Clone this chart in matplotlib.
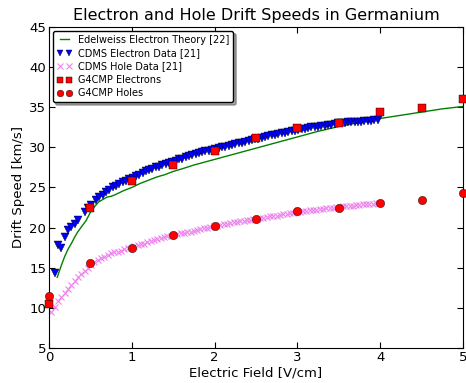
import matplotlib
matplotlib.use("Agg")
import matplotlib.pyplot as plt

# Edelweiss electron theory curve
theory_field = [0.10, 0.15, 0.19, 0.23, 0.27, 0.31, 0.35, 0.40, 0.45, 0.50, 0.55, 0.60,
                0.65, 0.70, 0.75, 0.80, 0.90, 1.00, 1.10, 1.20, 1.30, 1.40, 1.50, 1.60,
                1.75, 2.00, 2.25, 2.50, 2.75, 3.00, 3.25, 3.50, 3.75, 4.00, 4.25, 4.50,
                4.75, 5.00]
theory_speed = [13.8, 15.3, 16.4, 17.3, 18.0, 18.8, 19.5, 20.2, 20.9, 21.9, 22.6, 23.2,
                23.5, 23.8, 23.9, 24.1, 24.6, 25.0, 25.5, 25.9, 26.3, 26.6, 27.0, 27.3,
                27.8, 28.5, 29.2, 29.9, 30.6, 31.3, 32.0, 32.6, 33.1, 33.6, 34.0, 34.4,
                34.8, 35.1]

# CDMS electron data
cdms_e_field = [0.07, 0.11, 0.15, 0.20, 0.23, 0.27, 0.31, 0.35, 0.43, 0.47, 0.51, 0.57,
                0.61, 0.65, 0.69, 0.73, 0.77, 0.81, 0.85, 0.89, 0.93, 0.97, 1.01, 1.05,
                1.09, 1.13, 1.17, 1.21, 1.25, 1.29, 1.33, 1.37, 1.41, 1.45, 1.49, 1.53,
                1.57, 1.61, 1.65, 1.69, 1.73, 1.77, 1.81, 1.85, 1.89, 1.93, 1.97, 2.01,
                2.05, 2.09, 2.13, 2.17, 2.21, 2.25, 2.29, 2.33, 2.37, 2.41, 2.45, 2.49,
                2.53, 2.57, 2.61, 2.65, 2.69, 2.73, 2.77, 2.81, 2.85, 2.89, 2.93, 2.97,
                3.01, 3.05, 3.09, 3.13, 3.17, 3.21, 3.25, 3.29, 3.33, 3.37, 3.41, 3.45,
                3.49, 3.53, 3.57, 3.61, 3.65, 3.69, 3.73, 3.77, 3.81, 3.85, 3.89, 3.93,
                3.97]
cdms_e_speed = [14.4, 17.8, 17.4, 18.8, 19.7, 20.1, 20.5, 20.9, 21.9, 22.4, 22.8, 23.4,
                23.8, 24.1, 24.4, 24.7, 25.1, 25.2, 25.4, 25.7, 25.8, 26.0, 26.2, 26.4,
                26.6, 26.8, 27.0, 27.2, 27.3, 27.5, 27.6, 27.8, 27.9, 28.1, 28.2, 28.3,
                28.5, 28.6, 28.8, 28.9, 29.1, 29.2, 29.3, 29.4, 29.5, 29.6, 29.7, 29.8,
                29.9, 30.0, 30.1, 30.2, 30.3, 30.4, 30.5, 30.6, 30.7, 30.8, 30.9, 31.0,
                31.1, 31.2, 31.3, 31.4, 31.5, 31.6, 31.7, 31.8, 31.85, 31.9, 32.0, 32.1,
                32.2, 32.3, 32.35, 32.4, 32.5, 32.55, 32.6, 32.65, 32.7, 32.8, 32.85, 32.9,
                33.0, 33.0, 33.05, 33.1, 33.1, 33.15, 33.2, 33.2, 33.25, 33.3, 33.3, 33.35,
                33.4]

# CDMS hole data
cdms_h_field = [0.03, 0.07, 0.11, 0.15, 0.19, 0.23, 0.27, 0.31, 0.35, 0.39, 0.43, 0.47,
                0.51, 0.55, 0.59, 0.63, 0.67, 0.71, 0.75, 0.79, 0.83, 0.87, 0.91, 0.95,
                0.99, 1.03, 1.07, 1.11, 1.15, 1.19, 1.23, 1.27, 1.31, 1.35, 1.39, 1.43,
                1.47, 1.51, 1.55, 1.59, 1.63, 1.67, 1.71, 1.75, 1.79, 1.83, 1.87, 1.91,
                1.95, 1.99, 2.03, 2.07, 2.11, 2.15, 2.19, 2.23, 2.27, 2.31, 2.35, 2.39,
                2.43, 2.47, 2.51, 2.55, 2.59, 2.63, 2.67, 2.71, 2.75, 2.79, 2.83, 2.87,
                2.91, 2.95, 2.99, 3.03, 3.07, 3.11, 3.15, 3.19, 3.23, 3.27, 3.31, 3.35,
                3.39, 3.43, 3.47, 3.51, 3.55, 3.59, 3.63, 3.67, 3.71, 3.75, 3.79, 3.83,
                3.87, 3.91, 3.95, 3.99]
cdms_h_speed = [9.5, 10.1, 10.8, 11.3, 11.8, 12.4, 12.9, 13.3, 13.8, 14.2, 14.6, 15.0,
                15.4, 15.7, 16.0, 16.2, 16.4, 16.6, 16.8, 16.9, 17.0, 17.1, 17.3, 17.4,
                17.5, 17.7, 17.8, 17.9, 18.0, 18.2, 18.3, 18.4, 18.6, 18.7, 18.8, 18.9,
                19.0, 19.1, 19.2, 19.3, 19.35, 19.45, 19.5, 19.6, 19.7, 19.8, 19.9, 20.0,
                20.1, 20.2, 20.25, 20.35, 20.4, 20.5, 20.55, 20.65, 20.7, 20.8, 20.85, 20.9,
                21.0, 21.05, 21.1, 21.2, 21.25, 21.3, 21.4, 21.45, 21.5, 21.6, 21.65, 21.7,
                21.8, 21.85, 21.9, 22.0, 22.05, 22.1, 22.15, 22.2, 22.25, 22.3, 22.35, 22.4,
                22.45, 22.5, 22.55, 22.6, 22.65, 22.7, 22.7, 22.75, 22.8, 22.85, 22.9, 22.95,
                23.0, 23.0, 23.05, 23.1]

# G4CMP simulation
g4_field = [0.0, 0.5, 1.0, 1.5, 2.0, 2.5, 3.0, 3.5, 4.0, 4.5, 5.0]
g4_electrons = [10.5, 22.4, 25.8, 27.8, 29.5, 31.2, 32.45, 33.0, 34.4, 34.85, 36.0]
g4_holes = [11.5, 15.6, 17.5, 19.1, 20.2, 21.1, 22.1, 22.5, 23.1, 23.4, 24.3]

fig = plt.figure(figsize=(4.66, 3.83), dpi=100)
ax = fig.add_axes([0.105, 0.0914, 0.8886, 0.8381])

ax.plot(theory_field, theory_speed, color="g", lw=1, label="Edelweiss Electron Theory [22]")
ax.plot(cdms_e_field, cdms_e_speed, "v", color="b", mec="k", mew=0.3, ms=6,
        label="CDMS Electron Data [21]")
ax.plot(cdms_h_field, cdms_h_speed, "x", color="violet", mew=0.8, ms=5,
        label="CDMS Hole Data [21]")
ax.plot(g4_field, g4_electrons, "s", color="r", mec="k", mew=0.3, ms=6,
        label="G4CMP Electrons", clip_on=False, zorder=5)
ax.plot(g4_field, g4_holes, "o", color="r", mec="k", mew=0.3, ms=6,
        label="G4CMP Holes", clip_on=False, zorder=5)

ax.set_xlim(0, 5)
ax.set_ylim(5, 45)
ax.tick_params(direction="in", top=True, right=True, labelsize=9.5, length=4, pad=2)
ax.set_title("Electron and Hole Drift Speeds in Germanium", fontsize=11.5, pad=5)
ax.set_xlabel("Electric Field [V/cm]", fontsize=9.5, labelpad=2)
ax.set_ylabel("Drift Speed [km/s]", fontsize=9.5, labelpad=3)

ax.legend(loc="upper left", numpoints=2, fontsize=7, shadow=True, fancybox=True,
          framealpha=1, edgecolor="k", borderaxespad=0.4, handlelength=1.6,
          handletextpad=0.6, labelspacing=0.35, borderpad=0.4, markerscale=0.8)

plt.savefig("out.png", dpi=100)
plt.close(fig)
